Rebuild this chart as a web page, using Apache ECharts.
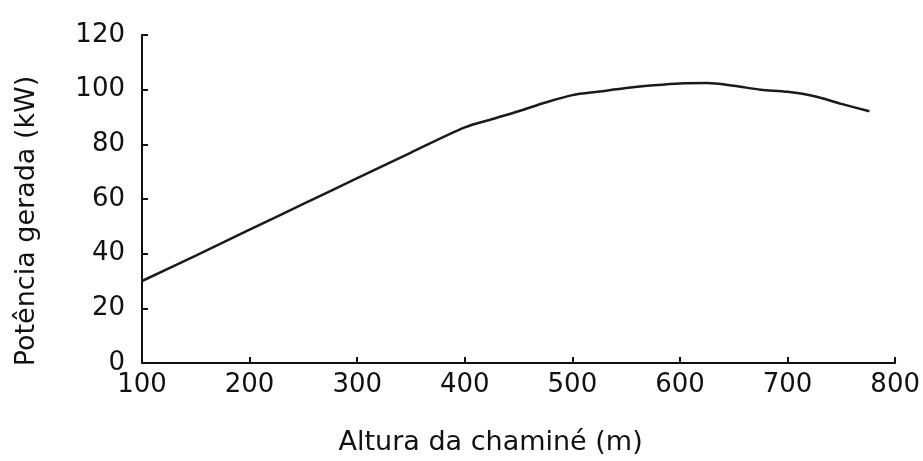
<!DOCTYPE html>
<html>
<head>
<meta charset="utf-8">
<script src="https://cdn.jsdelivr.net/npm/echarts@6/dist/echarts.min.js"></script>
<style>
  html, body { margin: 0; padding: 0; background: #fff; }
  #main { width: 923px; height: 461px; }
</style>
</head>
<body>
<div id="main"></div>
<script>
// altura da chaminé (m) e potência gerada (kW)
var alturas = [100, 150, 200, 250, 300, 350, 400, 425, 450, 475, 500, 525, 550, 575, 600, 625, 650, 675, 700, 725, 750, 776];
var potencias = [30, 39.3, 48.8, 58.2, 67.6, 77, 86.2, 89.2, 92.1, 95.3, 98, 99.3, 100.6, 101.6, 102.3, 102.4, 101.4, 100, 99.2, 97.6, 94.8, 92.1];
var xTicks = [100, 200, 300, 400, 500, 600, 700, 800];
var yTicks = [0, 20, 40, 60, 80, 100, 120];

var pontos = alturas.map(function (a, i) { return [a, potencias[i]]; });

var myChart = echarts.init(document.getElementById('main'));
var fonte = '"DejaVu Sans", "Liberation Sans", sans-serif';
var option = {
    backgroundColor: '#fff',
    animation: false,
    grid: { left: 142, right: 25, top: 35, bottom: 96 },
    xAxis: {
        type: 'value',
        min: xTicks[0],
        max: xTicks[xTicks.length - 1],
        interval: 100,
        name: 'Altura da chaminé (m)',
        nameLocation: 'middle',
        nameGap: 66,
        nameTextStyle: { fontFamily: fonte, fontSize: 27, color: '#111', padding: [0, 56, 0, 0] },
        axisLine: { lineStyle: { color: '#111', width: 2 } },
        axisTick: { inside: true, length: 6, lineStyle: { color: '#111', width: 2 } },
        axisLabel: { fontFamily: fonte, fontSize: 26, color: '#111', margin: 9 },
        splitLine: { show: false }
    },
    yAxis: {
        type: 'value',
        min: yTicks[0],
        max: yTicks[yTicks.length - 1],
        interval: 20,
        name: 'Potência gerada (kW)',
        nameLocation: 'middle',
        nameGap: 102,
        nameTextStyle: { fontFamily: fonte, fontSize: 27, color: '#111', padding: [0, 44, 0, 0] },
        axisLine: { show: true, lineStyle: { color: '#111', width: 2 } },
        axisTick: { show: true, inside: true, length: 6, lineStyle: { color: '#111', width: 2 } },
        axisLabel: { fontFamily: fonte, fontSize: 26, color: '#111', margin: 17 },
        splitLine: { show: false }
    },
    series: [
        {
            type: 'line',
            data: pontos,
            smooth: 0.3,
            showSymbol: false,
            lineStyle: { color: '#1a1a1a', width: 2.5 }
        }
    ]
};
myChart.setOption(option);
</script>
</body>
</html>
